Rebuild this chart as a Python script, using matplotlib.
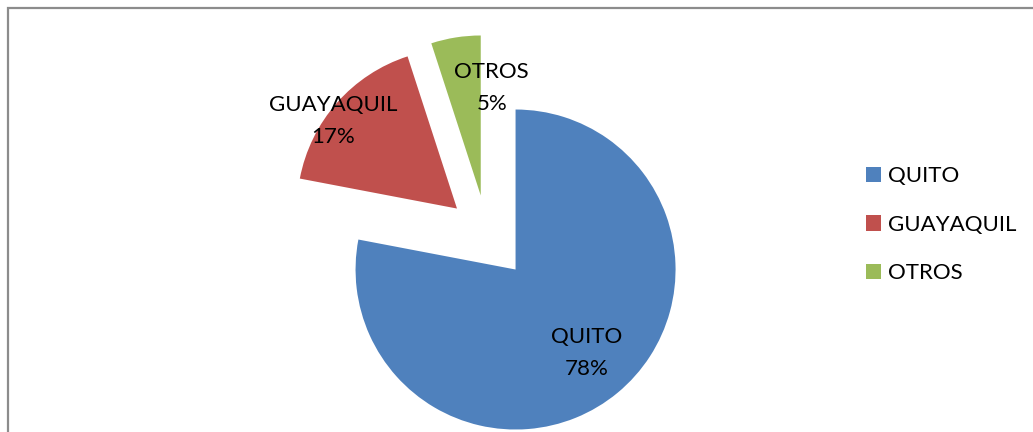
import matplotlib.pyplot as plt
from matplotlib.patches import Rectangle

# data
ciudades = ['QUITO', 'GUAYAQUIL', 'OTROS']
porcentajes = [78, 17, 5]
colores = ['#4F81BD', '#C0504D', '#9BBB59']
separacion = [0.28, 0.25, 0.25]

# label spots (pie radius = 1)
pos_etiquetas = [(0.62, -0.74), (-0.96, 0.71), (0.03, 0.92)]

plt.rcParams['font.family'] = ['Lato', 'DejaVu Sans']
W, H = 1033, 432
fig = plt.figure(figsize=(W / 100, H / 100), dpi=100)
ax = fig.add_axes([0, 0, 1, 1])

cx, cy, r = 487, 235, 160  # pie centre & radius in pixels
wedges, _ = ax.pie(porcentajes, colors=colores, explode=separacion,
                   startangle=90, counterclock=False, radius=1,
                   wedgeprops=dict(linewidth=0))

for nombre, val, (x, y) in zip(ciudades, porcentajes, pos_etiquetas):
    ax.text(x, y, '{}\n{}%'.format(nombre, val), ha='center', va='center',
            fontsize=16, linespacing=1.75)

ax.set_xlim(-cx / r, (W - cx) / r)
ax.set_ylim(-(H - cy) / r, cy / r)
ax.set_aspect('auto')
ax.axis('off')

ax.legend(wedges, ciudades, loc='upper left',
          bbox_to_anchor=(866 / W, 1 - 166 / H), bbox_transform=fig.transFigure,
          frameon=False, fontsize=16, handlelength=0.68, handleheight=0.68,
          handletextpad=0.32, labelspacing=1.29, borderpad=0, borderaxespad=0)

# chart frame (only left and top visible)
fig.patches.append(Rectangle((7.5 / W, -0.1), 1.2, 1.1 - 8.5 / H,
                             transform=fig.transFigure, fill=False,
                             edgecolor='#8c8c8c', linewidth=1.6))

fig.savefig('out.png', dpi=100)
